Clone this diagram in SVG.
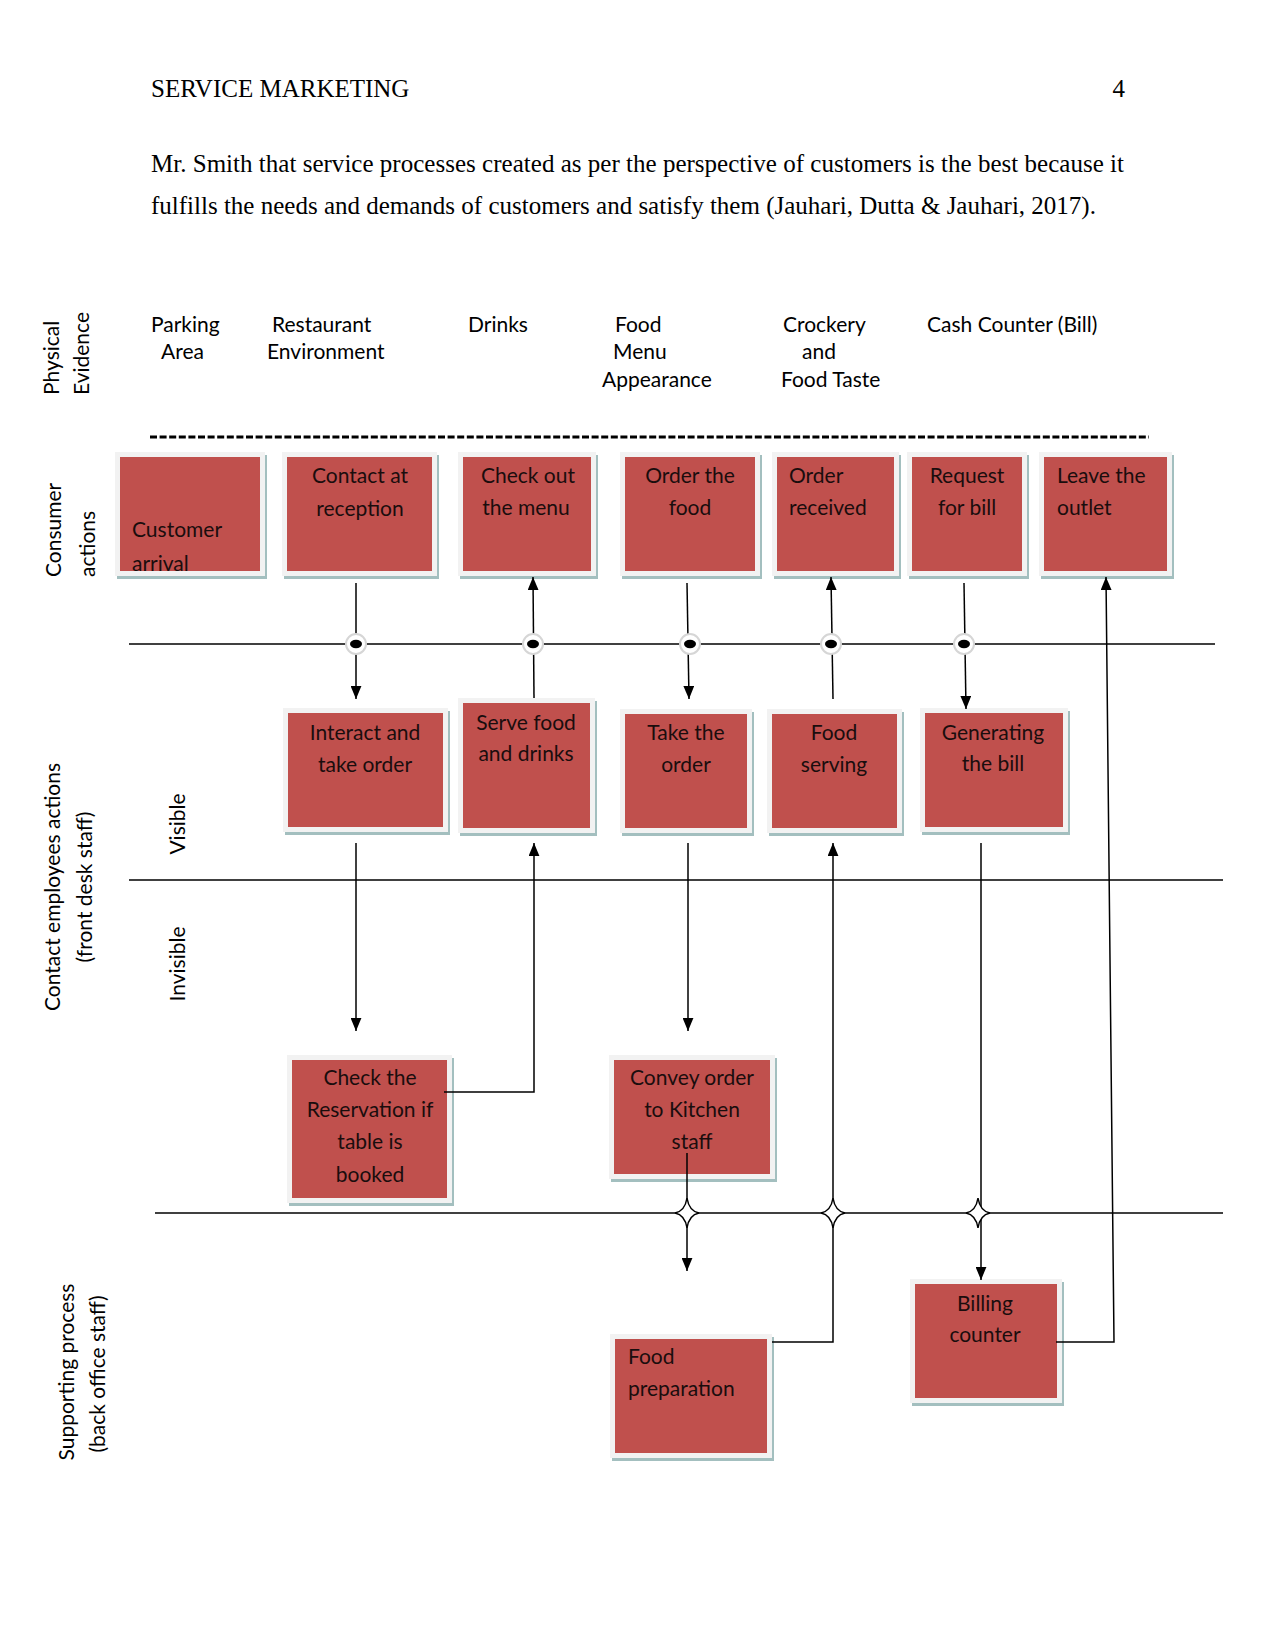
<svg xmlns="http://www.w3.org/2000/svg" width="1275" height="1650" viewBox="0 0 1275 1650">
<style>
.hdr{font-family:"Liberation Serif","Times New Roman",serif;font-size:25px;fill:#000}
.t{font-family:Lato,"Noto Sans",sans-serif;font-size:21px;fill:#1a0d0d}
.lbl{font-family:Lato,"Noto Sans",sans-serif;font-size:21px;fill:#000}
.c{text-anchor:middle}
.shadow{fill:#a3bfbf}
.frame{fill:#f2f2f2}
.box{fill:#c0504d}
.lane{stroke:#000;stroke-width:1.5;fill:none}
.conn{stroke:#000;stroke-width:1.5;fill:none}
.arr{marker-end:url(#arr)}
</style>
<defs>
<marker id="arr" viewBox="0 0 12 10" refX="12" refY="5" markerWidth="13" markerHeight="11" markerUnits="userSpaceOnUse" orient="auto">
<path d="M0,0 L12,5 L0,10 Z" fill="#000"/>
</marker>
<g id="dot">
<circle r="10" fill="#fff" stroke="#d6d6d6" stroke-width="2"/>
<ellipse rx="6" ry="4.2" fill="#000"/>
</g>
<path id="star" d="M0,-15 Q2,-2 12,0 Q2,2 0,15 Q-2,2 -12,0 Q-2,-2 0,-15 Z" fill="#fff" stroke="#000" stroke-width="1.5"/>
<clipPath id="clipCust"><rect x="120" y="457" width="140" height="114"/></clipPath>
</defs>
<rect width="1275" height="1650" fill="#fff"/>

<!-- header and body text -->
<text class="hdr" x="151" y="97">SERVICE MARKETING</text>
<text class="hdr" x="1125" y="97" text-anchor="end">4</text>
<text class="hdr" x="151" y="172" textLength="973" lengthAdjust="spacing">Mr. Smith that service processes created as per the perspective of customers is the best because it</text>
<text class="hdr" x="151" y="214">fulfills the needs and demands of customers and satisfy them (Jauhari, Dutta &amp; Jauhari, 2017).</text>

<!-- row labels -->
<g id="row-labels">
<text class="lbl" transform="translate(59,395) rotate(-90)">Physical</text>
<text class="lbl" transform="translate(89,395) rotate(-90)">Evidence</text>
<text class="lbl" transform="translate(61,577) rotate(-90)">Consumer</text>
<text class="lbl" transform="translate(95,577) rotate(-90)">actions</text>
<text class="lbl c" transform="translate(60,887) rotate(-90)">Contact employees actions</text>
<text class="lbl c" transform="translate(92,887) rotate(-90)">(front desk staff)</text>
<text class="lbl c" transform="translate(185,824) rotate(-90)">Visible</text>
<text class="lbl c" transform="translate(185,964) rotate(-90)">Invisible</text>
<text class="lbl c" transform="translate(74,1372) rotate(-90)">Supporting process</text>
<text class="lbl c" transform="translate(105,1374) rotate(-90)">(back office staff)</text>
</g>

<!-- physical evidence -->
<g id="physical-evidence">
<text class="lbl" x="151" y="332">Parking</text>
<text class="lbl" x="161" y="359">Area</text>
<text class="lbl" x="272" y="332">Restaurant</text>
<text class="lbl" x="267" y="359">Environment</text>
<text class="lbl" x="468" y="332">Drinks</text>
<text class="lbl" x="615" y="332">Food</text>
<text class="lbl" x="613" y="359">Menu</text>
<text class="lbl" x="602" y="387">Appearance</text>
<text class="lbl" x="783" y="332">Crockery</text>
<text class="lbl" x="802" y="359">and</text>
<text class="lbl" x="781" y="387">Food Taste</text>
<text class="lbl" x="927" y="332">Cash Counter (Bill)</text>
</g>

<!-- lanes -->
<g id="lanes">
<line x1="150" y1="437" x2="1149" y2="437" stroke="#000" stroke-width="2.8" stroke-dasharray="7 2.6"/>
<line class="lane" x1="129" y1="644" x2="1215" y2="644"/>
<line class="lane" x1="129" y1="880" x2="1223" y2="880"/>
<line class="lane" x1="155" y1="1213" x2="1223" y2="1213"/>
</g>

<!-- nodes -->
<g id="n-customer-arrival">
<rect class="shadow" x="117" y="455" width="150" height="124"/>
<rect class="frame" x="115" y="452" width="150" height="124"/>
<rect class="box" x="120" y="457" width="140" height="114"/>
<g clip-path="url(#clipCust)">
<text class="t" x="132" y="537">Customer</text>
<text class="t" x="132" y="571">arrival</text>
</g>
</g>
<g id="n-contact-reception">
<rect class="shadow" x="284" y="455" width="155" height="124"/>
<rect class="frame" x="282" y="452" width="155" height="124"/>
<rect class="box" x="287" y="457" width="145" height="114"/>
<text class="t c" x="360" y="483">Contact at</text>
<text class="t c" x="360" y="516">reception</text>
</g>
<g id="n-check-menu">
<rect class="shadow" x="460" y="455" width="138" height="124"/>
<rect class="frame" x="458" y="452" width="138" height="124"/>
<rect class="box" x="463" y="457" width="128" height="114"/>
<text class="t c" x="528" y="483">Check out</text>
<text class="t c" x="526" y="515">the menu</text>
</g>
<g id="n-order-food">
<rect class="shadow" x="622" y="455" width="140" height="124"/>
<rect class="frame" x="620" y="452" width="140" height="124"/>
<rect class="box" x="625" y="457" width="130" height="114"/>
<text class="t c" x="690" y="483">Order the</text>
<text class="t c" x="690" y="515">food</text>
</g>
<g id="n-order-received">
<rect class="shadow" x="774" y="455" width="127" height="124"/>
<rect class="frame" x="772" y="452" width="127" height="124"/>
<rect class="box" x="777" y="457" width="117" height="114"/>
<text class="t" x="789" y="483">Order</text>
<text class="t" x="789" y="515">received</text>
</g>
<g id="n-request-bill">
<rect class="shadow" x="909" y="455" width="120" height="124"/>
<rect class="frame" x="907" y="452" width="120" height="124"/>
<rect class="box" x="912" y="457" width="110" height="114"/>
<text class="t c" x="967" y="483">Request</text>
<text class="t c" x="967" y="515">for bill</text>
</g>
<g id="n-leave-outlet">
<rect class="shadow" x="1041" y="455" width="133" height="124"/>
<rect class="frame" x="1039" y="452" width="133" height="124"/>
<rect class="box" x="1044" y="457" width="123" height="114"/>
<text class="t" x="1057" y="483">Leave the</text>
<text class="t" x="1057" y="515">outlet</text>
</g>

<g id="n-interact">
<rect class="shadow" x="285" y="711" width="165" height="124"/>
<rect class="frame" x="283" y="708" width="165" height="124"/>
<rect class="box" x="288" y="713" width="155" height="114"/>
<text class="t c" x="365" y="740">Interact and</text>
<text class="t c" x="365" y="772">take order</text>
</g>
<g id="n-serve-food">
<rect class="shadow" x="460" y="701" width="137" height="135"/>
<rect class="frame" x="458" y="698" width="137" height="135"/>
<rect class="box" x="463" y="703" width="127" height="125"/>
<text class="t c" x="526" y="730">Serve food</text>
<text class="t c" x="526" y="761">and drinks</text>
</g>
<g id="n-take-order">
<rect class="shadow" x="622" y="712" width="132" height="124"/>
<rect class="frame" x="620" y="709" width="132" height="124"/>
<rect class="box" x="625" y="714" width="122" height="114"/>
<text class="t c" x="686" y="740">Take the</text>
<text class="t c" x="686" y="772">order</text>
</g>
<g id="n-food-serving">
<rect class="shadow" x="769" y="712" width="135" height="124"/>
<rect class="frame" x="767" y="709" width="135" height="124"/>
<rect class="box" x="772" y="714" width="125" height="114"/>
<text class="t c" x="834" y="740">Food</text>
<text class="t c" x="834" y="772">serving</text>
</g>
<g id="n-generating-bill">
<rect class="shadow" x="922" y="711" width="148" height="124"/>
<rect class="frame" x="920" y="708" width="148" height="124"/>
<rect class="box" x="925" y="713" width="138" height="114"/>
<text class="t c" x="993" y="740">Generating</text>
<text class="t c" x="993" y="771">the bill</text>
</g>

<g id="n-check-reservation">
<rect class="shadow" x="289" y="1058" width="165" height="148"/>
<rect class="frame" x="287" y="1055" width="165" height="148"/>
<rect class="box" x="292" y="1060" width="155" height="138"/>
<text class="t c" x="370" y="1085">Check the</text>
<text class="t c" x="370" y="1117">Reservation if</text>
<text class="t c" x="370" y="1149">table is</text>
<text class="t c" x="370" y="1182">booked</text>
</g>
<g id="n-convey-order">
<rect class="shadow" x="611" y="1058" width="166" height="124"/>
<rect class="frame" x="609" y="1055" width="166" height="124"/>
<rect class="box" x="614" y="1060" width="156" height="114"/>
<text class="t c" x="692" y="1085">Convey order</text>
<text class="t c" x="692" y="1117">to Kitchen</text>
<text class="t c" x="692" y="1149">staff</text>
</g>

<g id="n-food-preparation">
<rect class="shadow" x="612" y="1337" width="162" height="124"/>
<rect class="frame" x="610" y="1334" width="162" height="124"/>
<rect class="box" x="615" y="1339" width="152" height="114"/>
<text class="t" x="628" y="1364">Food</text>
<text class="t" x="628" y="1396">preparation</text>
</g>
<g id="n-billing-counter">
<rect class="shadow" x="912" y="1282" width="152" height="124"/>
<rect class="frame" x="910" y="1279" width="152" height="124"/>
<rect class="box" x="915" y="1284" width="142" height="114"/>
<text class="t c" x="985" y="1311">Billing</text>
<text class="t c" x="985" y="1342">counter</text>
</g>

<!-- connectors -->
<g id="connectors">
<line class="conn arr" x1="356" y1="583" x2="356" y2="699"/>
<line class="conn arr" x1="534" y1="698" x2="533" y2="577"/>
<line class="conn arr" x1="687" y1="583" x2="689" y2="699"/>
<line class="conn arr" x1="833" y1="699" x2="831" y2="577"/>
<line class="conn arr" x1="964" y1="583" x2="966" y2="709"/>
<line class="conn arr" x1="356" y1="843" x2="356" y2="1031"/>
<polyline class="conn arr" points="444,1092 534,1092 534,843"/>
<line class="conn arr" x1="688" y1="843" x2="688" y2="1031"/>
<line class="conn arr" x1="687" y1="1153" x2="687" y2="1271"/>
<polyline class="conn arr" points="772,1342 833,1342 833,843"/>
<line class="conn arr" x1="981" y1="843" x2="981" y2="1280"/>
<polyline class="conn arr" points="1056,1342 1114,1342 1106,577"/>
<use href="#dot" x="356" y="644"/>
<use href="#dot" x="533" y="644"/>
<use href="#dot" x="690" y="644"/>
<use href="#dot" x="831" y="644"/>
<use href="#dot" x="964" y="644"/>
<use href="#star" x="687" y="1213"/>
<use href="#star" x="833" y="1213"/>
<use href="#star" x="978" y="1213"/>
</g>
</svg>
